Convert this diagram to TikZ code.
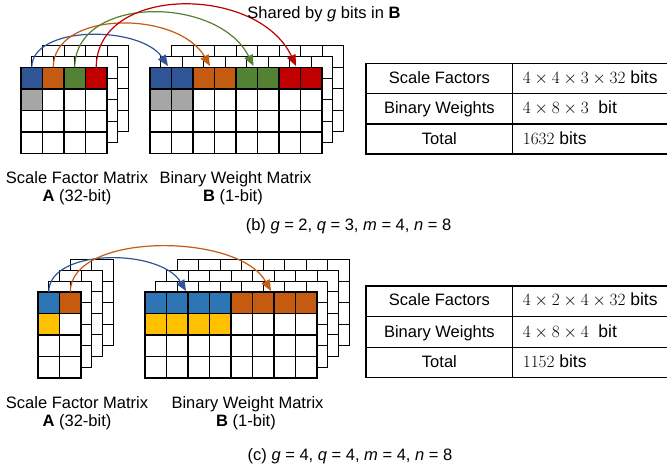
\documentclass[tikz,border=0pt]{standalone}
\usepackage{fontspec}
\setmainfont{Liberation Sans}
\usetikzlibrary{arrows.meta}
\definecolor{cblue}{HTML}{2F5597}
\definecolor{lblue}{HTML}{2E75B6}
\definecolor{corange}{HTML}{C55A11}
\definecolor{cgreen}{HTML}{548235}
\definecolor{cred}{HTML}{C00000}
\definecolor{cgray}{HTML}{A6A6A6}
\definecolor{cyellow}{HTML}{FFC000}
\newcommand\fsa{\fontsize{16.5bp}{18.5bp}\selectfont}
\newcommand\fsb{\fontsize{17.5bp}{20bp}\selectfont}
\def\cs{21.5}
\newcommand\mlayer[4]{\foreach \i in {0,...,#3}{\foreach \j in {0,...,#4}{\draw[cellline,fill=white] ({#1+\i*\cs},{#2+\j*\cs}) rectangle ++(\cs,\cs);}}}
\newcommand\ccell[5]{\draw[cellline,fill=#5] ({#1+#3*\cs},{#2+#4*\cs}) rectangle ++(\cs,\cs);}
\tikzset{
  cellline/.style={draw=black, line width=1.1bp},
  lbl/.style={inner sep=0pt, anchor=base, font=\fsa},
  tval/.style={inner sep=0pt, anchor=base west, font=\fsb},
  arr/.style={line width=1.2bp, -{Triangle[length=11bp,width=9bp]}},
  tline/.style={draw=black, line width=1.1bp}
}
\begin{document}
\begin{tikzpicture}[x=1bp,y=-1bp]
\clip (0,0) rectangle (667,468);
\fill[white] (0,0) rectangle (667,468);
% ---------------- (b) ----------------
\foreach \k in {2,1,0}{\mlayer{21+10.8*\k}{67.5-10.9*\k}{3}{3}}
\foreach \k in {2,1,0}{\mlayer{150+10.8*\k}{67.5-10.9*\k}{7}{3}}
\ccell{21}{67.5}{0}{0}{cblue}\ccell{21}{67.5}{1}{0}{corange}
\ccell{21}{67.5}{2}{0}{cgreen}\ccell{21}{67.5}{3}{0}{cred}
\ccell{21}{67.5}{0}{1}{cgray}
\ccell{150}{67.5}{0}{0}{cblue}\ccell{150}{67.5}{1}{0}{cblue}
\ccell{150}{67.5}{2}{0}{corange}\ccell{150}{67.5}{3}{0}{corange}
\ccell{150}{67.5}{4}{0}{cgreen}\ccell{150}{67.5}{5}{0}{cgreen}
\ccell{150}{67.5}{6}{0}{cred}\ccell{150}{67.5}{7}{0}{cred}
\ccell{150}{67.5}{0}{1}{cgray}\ccell{150}{67.5}{1}{1}{cgray}
\coordinate (sb1) at (31.75,67.5);
\coordinate (sb2) at (53.25,67.5);
\coordinate (sb3) at (74.75,67.5);
\coordinate (sb4) at (96.25,67.5);
\coordinate (tb1) at (168,66);
\coordinate (tb2) at (210,66);
\coordinate (tb3) at (253.5,66);
\coordinate (tb4) at (296,66);
\draw[arr,cblue] (sb1) .. controls (31.75,25) and (140,25) .. (tb1);
\draw[arr,corange] (sb2) .. controls (53.25,10) and (178,10) .. (tb2);
\draw[arr,cgreen] (sb3) .. controls (74.75,-5) and (218,-5) .. (tb3);
\draw[arr,cred] (sb4) .. controls (96.25,-15.5) and (258,-15.5) .. (tb4);
\node[lbl] (shared) at (324,18.3) {Shared by \textit{g} bits in \textbf{B}};
\node[lbl] (la1) at (77,184) {Scale Factor Matrix};
\node[lbl] (la2) at (77,202) {\textbf{A} (32-bit)};
\node[lbl] (lbb1) at (235.5,184) {Binary Weight Matrix};
\node[lbl] (lbb2) at (233,202) {\textbf{B} (1-bit)};
\node[lbl] (capb) at (348.5,231) {(b) \textit{g} = 2, \textit{q} = 3, \textit{m} = 4, \textit{n} = 8};
% table b
\draw[tline] (366,63.3) rectangle (672,154);
\draw[tline] (366,93.3) -- (672,93.3);
\draw[tline] (366,124) -- (672,124);
\draw[tline] (512.7,63.3) -- (512.7,154);
\node[lbl] (tb1a) at (439.4,83.5) {Scale Factors};
\node[lbl] (tb2a) at (439.4,114) {Binary Weights};
\node[lbl] (tb3a) at (439.4,144.5) {Total};
\node[tval] (tb1b) at (522.7,83.5) {$4\times4\times3\times32$ bits};
\node[tval] (tb2b) at (522.7,114) {$4\times8\times3$\ \ bit};
\node[tval] (tb3b) at (522.7,144.5) {$1632$ bits};
% ---------------- (c) ----------------
\foreach \k in {3,2,1,0}{\mlayer{38+10.8*\k}{292-10.8*\k}{1}{3}}
\foreach \k in {3,2,1,0}{\mlayer{145+10.8*\k}{292-10.8*\k}{7}{3}}
\ccell{38}{292}{0}{0}{lblue}\ccell{38}{292}{1}{0}{corange}
\ccell{38}{292}{0}{1}{cyellow}
\foreach \c in {0,1,2,3}{\ccell{145}{292}{\c}{0}{lblue}\ccell{145}{292}{\c}{1}{cyellow}}
\foreach \c in {4,5,6,7}{\ccell{145}{292}{\c}{0}{corange}}
\coordinate (sc1) at (48.75,292);
\coordinate (sc2) at (70.25,292);
\coordinate (tc1) at (186,291);
\coordinate (tc2) at (271,291);
\draw[arr,cblue] (sc1) .. controls (48.75,248) and (160,248) .. (tc1);
\draw[arr,corange] (sc2) .. controls (70.25,232) and (238,232) .. (tc2);
\node[lbl] (lc1) at (77,408) {Scale Factor Matrix};
\node[lbl] (lc2) at (77,426.5) {\textbf{A} (32-bit)};
\node[lbl] (lcb1) at (247.5,408) {Binary Weight Matrix};
\node[lbl] (lcb2) at (246,426.5) {\textbf{B} (1-bit)};
\node[lbl] (capc) at (350,460) {(c) \textit{g} = 4, \textit{q} = 4, \textit{m} = 4, \textit{n} = 8};
% table c
\draw[tline] (366,286) rectangle (672,377.7);
\draw[tline] (366,316.7) -- (672,316.7);
\draw[tline] (366,347.7) -- (672,347.7);
\draw[tline] (512.7,286) -- (512.7,377.7);
\node[lbl] (tc1a) at (439.4,306) {Scale Factors};
\node[lbl] (tc2a) at (439.4,337) {Binary Weights};
\node[lbl] (tc3a) at (439.4,367.5) {Total};
\node[tval] (tc1b) at (522.7,306) {$4\times2\times4\times32$ bits};
\node[tval] (tc2b) at (522.7,337) {$4\times8\times4$\ \ bit};
\node[tval] (tc3b) at (522.7,367.5) {$1152$ bits};
\end{tikzpicture}
\end{document}
